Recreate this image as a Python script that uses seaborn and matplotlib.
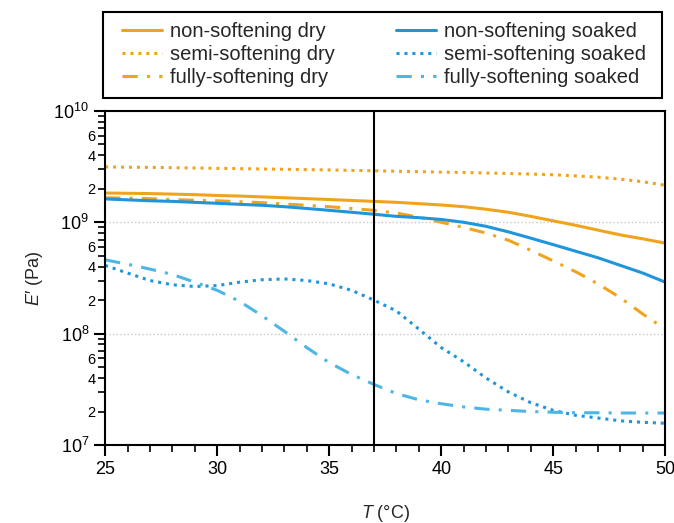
import numpy as np
import pandas as pd
import matplotlib
matplotlib.use("Agg")
import matplotlib.pyplot as plt
import matplotlib.ticker as mticker
from matplotlib.lines import Line2D
from matplotlib.patches import Rectangle
import seaborn as sns

# ---- data ----
T = list(range(25, 51))
non_dry = [1.83e9, 1.82e9, 1.81e9, 1.79e9, 1.77e9, 1.74e9, 1.72e9, 1.69e9, 1.66e9, 1.63e9,
           1.60e9, 1.57e9, 1.54e9, 1.51e9, 1.47e9, 1.43e9, 1.38e9, 1.31e9, 1.23e9, 1.13e9,
           1.03e9, 0.94e9, 0.85e9, 0.77e9, 0.71e9, 0.65e9]
semi_dry = [3.14e9, 3.12e9, 3.11e9, 3.09e9, 3.07e9, 3.05e9, 3.03e9, 3.01e9, 2.99e9, 2.97e9,
            2.95e9, 2.92e9, 2.90e9, 2.87e9, 2.85e9, 2.82e9, 2.80e9, 2.77e9, 2.74e9, 2.71e9,
            2.67e9, 2.61e9, 2.54e9, 2.44e9, 2.31e9, 2.15e9]
fully_dry = [1.66e9, 1.65e9, 1.63e9, 1.60e9, 1.58e9, 1.56e9, 1.53e9, 1.50e9, 1.46e9, 1.42e9,
             1.38e9, 1.33e9, 1.28e9, 1.21e9, 1.11e9, 1.00e9, 0.90e9, 0.80e9, 0.69e9, 0.56e9,
             0.45e9, 0.36e9, 0.28e9, 0.21e9, 0.15e9, 0.11e9]
non_soaked = [1.62e9, 1.59e9, 1.56e9, 1.54e9, 1.51e9, 1.48e9, 1.45e9, 1.42e9, 1.38e9, 1.33e9,
              1.28e9, 1.23e9, 1.18e9, 1.13e9, 1.10e9, 1.06e9, 1.00e9, 0.92e9, 0.82e9, 0.72e9,
              0.63e9, 0.55e9, 0.48e9, 0.41e9, 0.35e9, 0.29e9]
semi_soaked = [4.1e8, 3.5e8, 3.0e8, 2.75e8, 2.65e8, 2.7e8, 2.9e8, 3.05e8, 3.1e8, 3.0e8,
               2.8e8, 2.45e8, 2.0e8, 1.6e8, 1.1e8, 7.5e7, 5.6e7, 4.0e7, 3.0e7, 2.4e7,
               2.05e7, 1.85e7, 1.75e7, 1.65e7, 1.6e7, 1.57e7]
fully_soaked = [4.6e8, 4.2e8, 3.8e8, 3.4e8, 2.9e8, 2.45e8, 1.95e8, 1.45e8, 1.05e8, 7.5e7,
                5.5e7, 4.3e7, 3.5e7, 2.9e7, 2.55e7, 2.35e7, 2.2e7, 2.1e7, 2.05e7, 2.0e7,
                1.97e7, 1.95e7, 1.95e7, 1.94e7, 1.94e7, 1.94e7]

labels = ["non-softening dry", "semi-softening dry", "fully-softening dry",
          "non-softening soaked", "semi-softening soaked", "fully-softening soaked"]
T_ref = 37

ORANGE = "#F0A41E"
BLUE = "#1F95DC"
LBLUE = "#4DB6E4"

sns.set_style("ticks")
plt.rcParams["font.family"] = ["Liberation Sans", "DejaVu Sans"]
plt.rcParams["mathtext.fontset"] = "custom"
plt.rcParams["mathtext.rm"] = "Liberation Sans"
plt.rcParams["mathtext.it"] = "Liberation Sans:italic"

fig = plt.figure(figsize=(6.74, 5.23), dpi=100)
ax = fig.add_axes([0.156, 0.149, 0.831, 0.639])

DOT = (0, (1, 1.6))
DASHDOT = (0, (5, 3, 1, 3))
series = [
    (non_dry, ORANGE, "-"),
    (semi_dry, ORANGE, DOT),
    (fully_dry, ORANGE, DASHDOT),
    (non_soaked, BLUE, "-"),
    (semi_soaked, BLUE, DOT),
    (fully_soaked, LBLUE, DASHDOT),
]

handles = []
for (y, c, ls), lab in zip(series, labels):
    df = pd.DataFrame({"T": T, "E": y})
    sns.lineplot(data=df, x="T", y="E", ax=ax, color=c, linewidth=2.2, legend=False)
    ax.lines[-1].set_linestyle(ls)
    handles.append(Line2D([], [], color=c, linestyle=ls, linewidth=2.2, label=lab))

ax.axvline(T_ref, color="black", linewidth=1.5, zorder=5)

ax.set_yscale("log")
ax.set_xlim(25, 50)
ax.set_ylim(1e7, 1e10)

ax.xaxis.set_major_locator(mticker.MultipleLocator(5))
ax.xaxis.set_minor_locator(mticker.MultipleLocator(1))
ax.yaxis.set_major_locator(mticker.LogLocator(base=10, numticks=10))
ax.yaxis.set_minor_locator(mticker.LogLocator(base=10, subs=np.arange(2, 10), numticks=20))

def major_fmt(v, pos):
    e = int(round(np.log10(v)))
    return r"$\mathregular{10^{%d}}$" % e

def minor_fmt(v, pos):
    m = v / 10 ** np.floor(np.log10(v) + 1e-9)
    m = int(round(m))
    return str(m) if m in (2, 4, 6) else ""

ax.yaxis.set_major_formatter(mticker.FuncFormatter(major_fmt))
ax.yaxis.set_minor_formatter(mticker.FuncFormatter(minor_fmt))

ax.tick_params(axis="both", which="major", direction="out", length=8, width=1.5,
               labelsize=13, colors="black")
ax.tick_params(axis="both", which="minor", direction="out", length=5, width=1.2,
               labelsize=10.5, colors="black")
ax.tick_params(axis="y", which="minor", pad=2)

for sp in ax.spines.values():
    sp.set_linewidth(1.5)
    sp.set_color("black")
    sp.set_visible(True)

ax.yaxis.grid(True, which="major", linestyle=":", color="#c8c8c8", linewidth=1.0)
ax.set_axisbelow(True)

ax.set_xlabel(r"$T$ (°C)", fontsize=13, labelpad=18)
ax.set_ylabel(r"$E$′ (Pa)", fontsize=13, labelpad=6)

# legend: text block + separate frame
leg = fig.legend(handles=handles, ncol=2, loc="upper left",
                 bbox_to_anchor=(122 / 674, (523 - 22) / 523),
                 frameon=False, fontsize=14.5, handlelength=2.0,
                 handletextpad=0.4, labelspacing=0.2, borderaxespad=0.0,
                 borderpad=0.0, columnspacing=3.0)
fig.patches.append(Rectangle((103 / 674, (523 - 98) / 523), 559 / 674, 86 / 523,
                             transform=fig.transFigure, fill=False,
                             edgecolor="black", linewidth=1.5))

fig.savefig("out.png", dpi=100)
